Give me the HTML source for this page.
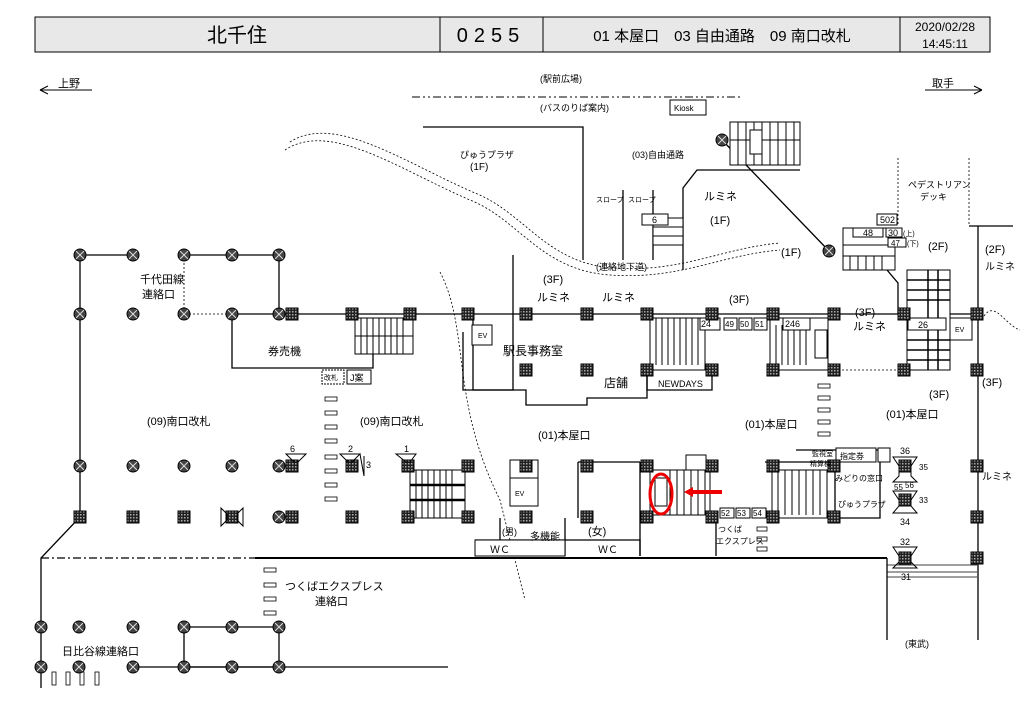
<!DOCTYPE html>
<html><head><meta charset="utf-8"><style>
html,body{margin:0;padding:0;background:#fff}
svg{display:block}
text{font-family:"Liberation Sans","Noto Sans CJK JP",sans-serif;fill:#000}
</style></head><body>
<svg width="1024" height="724" viewBox="0 0 1024 724" xmlns="http://www.w3.org/2000/svg">
<defs>
<pattern id="ck" width="3" height="3" patternUnits="userSpaceOnUse"><rect width="3" height="3" fill="#222"/><rect width="1.5" height="1.5" fill="#aaa"/></pattern>
<g id="sq"><rect x="-6" y="-6" width="12" height="12" fill="url(#ck)" stroke="#000" stroke-width="1"/></g>
<g id="ci"><circle r="6" fill="#444" stroke="#000"/><path d="M-4,-4L4,4M4,-4L-4,4" stroke="#ddd" stroke-width="1"/></g>
</defs>
<!-- header -->
<rect x="35" y="17" width="955" height="35" fill="#e8e8e8" stroke="#000"/>
<line x1="440" y1="17" x2="440" y2="52" stroke="#000"/>
<line x1="543" y1="17" x2="543" y2="52" stroke="#000"/>
<line x1="900" y1="17" x2="900" y2="52" stroke="#000"/>
<text x="237" y="42" font-size="20" text-anchor="middle">北千住</text>
<text x="491" y="42" font-size="20" text-anchor="middle" letter-spacing="6">0255</text>
<text x="722" y="41" font-size="15" text-anchor="middle">01 本屋口　03 自由通路　09 南口改札</text>
<text x="945" y="31" font-size="12" text-anchor="middle">2020/02/28</text>
<text x="945" y="48" font-size="12" text-anchor="middle">14:45:11</text>
<!-- directions -->
<g stroke="#000" fill="none" stroke-width="1">
<path d="M40,90H92M40,90l8,-4M40,90l8,4"/>
<path d="M925,90H982M982,90l-8,-4M982,90l-8,4"/>
<line x1="412" y1="97" x2="742" y2="97" stroke-dasharray="8,3,2,3,2,3"/>
<rect x="670" y="100" width="36" height="15" fill="#fff"/>
</g>
<text x="58" y="87" font-size="11">上野</text>
<text x="932" y="87" font-size="11">取手</text>
<text x="540" y="82" font-size="9">(駅前広場)</text>
<text x="540" y="111" font-size="9">(バスのりば案内)</text>
<!-- structure lines -->
<g stroke="#000" fill="none" stroke-width="1.3">
<path d="M80,255H133M184,255H279V314"/>
<path d="M80,255V517L41,558V688"/>
<path d="M232,314H977"/>
<path d="M232,314V368H373V352"/>
<path d="M423,127H583V260"/>
<path d="M513,255V314"/>
<path d="M683,270V188L697,170H800"/>
<path d="M722,140L829,251"/>
<path d="M887,270L898,283V314"/>
<path d="M969,226H1013M978,226V640"/>
<path d="M887,558V640"/>
<path d="M184,627H279V667H184Z"/>
<path d="M133,667H448"/>
<path d="M463,332V390H513V314"/>
<path d="M473,314V390H526V405H587V398H647V370"/>
<path d="M647,370V390H712V370"/>
<path d="M475,540H640V556"/>
<path d="M500,518V540M565,518V556M640,462V556M716,518V556"/>
<path d="M578,462H640"/>
<path d="M578,462V518"/>
<path d="M765,462H835V518"/>
<path d="M796,450H880V518H834"/>
<path d="M623,190V260M653,190V260"/>
</g>
<path d="M887,565H977M887,572H977M887,577H977" stroke="#000" stroke-width="0.8"/>
<line x1="41" y1="558" x2="255" y2="558" stroke="#000" stroke-width="1.2" stroke-dasharray="8,3,2,3"/>
<line x1="255" y1="558" x2="887" y2="558" stroke="#000" stroke-width="2"/>
<!-- dotted lines -->
<g stroke="#000" fill="none" stroke-dasharray="2,2" stroke-width="0.8">
<path d="M184,255V314H232"/>
<path d="M440,272C470,330 450,400 500,500 510,540 520,580 525,600"/>
<path d="M834,370H904"/>
<path d="M285,150C330,120 400,170 470,200 520,220 540,270 610,275 680,280 720,255 780,250 830,245"/>
<path d="M290,142C335,113 405,163 475,193 525,213 545,262 612,268 682,273 722,248 780,243 830,240"/>
<path d="M984,316C995,300 1005,325 1020,330"/>
<path d="M898,158V225M969,158V225"/>
</g>
<!-- escalators/stairs -->
<g stroke="#000" fill="#fff" stroke-width="1">
<rect x="355" y="318" width="58" height="36"/>
<path d="M361,318V354M367,318V354M373,318V354M379,318V354M385,318V354M391,318V354M397,318V354M403,318V354M355,336H413" />
<rect x="650" y="318" width="55" height="52"/>
<path d="M656,318V365M662,318V365M668,318V365M674,318V365M680,318V365M686,318V365M692,318V365M698,318V365"/>
<rect x="770" y="318" width="58" height="52"/>
<path d="M776,325V365M782,325V365M788,325V365M794,325V365M800,325V365M806,325V365"/>
<rect x="815" y="330" width="12" height="28"/>
<rect x="410" y="470" width="55" height="48"/>
<path d="M416,470V518M422,470V518M428,470V518M434,470V518M440,470V518M446,470V518M452,470V518"/>
<path d="M410,485H465M410,500H465" stroke-width="2.5"/>
<rect x="650" y="470" width="60" height="45"/>
<path d="M670,470V515M677,470V515M684,470V515M691,470V515M698,470V515M705,470V515"/>
<rect x="655" y="478" width="12" height="28"/>
<rect x="772" y="470" width="55" height="48"/>
<path d="M778,470V515M785,470V515M792,470V515M799,470V515M806,470V515M813,470V515M820,470V515"/>
<rect x="730" y="122" width="70" height="43"/>
<path d="M738,122V165M746,122V165M754,122V165M762,122V165M770,122V165M778,122V165M786,122V165M794,122V165M730,140H800" />
<rect x="750" y="130" width="12" height="24"/>
<rect x="843" y="228" width="52" height="42"/>
<path d="M843,245H895M843,256H895M850,256V270M858,256V270M866,256V270M874,256V270M882,256V270"/>
<rect x="907" y="270" width="43" height="100"/>
<path d="M907,280H950M907,290H950M907,300H950M907,340H950M907,350H950M907,360H950M928,270V370M938,270V370" stroke-width="1.5"/>
<rect x="653" y="218" width="30" height="27"/>
<path d="M653,227H683M653,236H683"/>
<rect x="642" y="214" width="26" height="11"/>
<rect x="510" y="478" width="28" height="28"/>
<rect x="510" y="460" width="28" height="18"/>
<rect x="475" y="540" width="90" height="16"/>
<rect x="686" y="455" width="20" height="15"/>
<rect x="836" y="448" width="40" height="14"/>
<rect x="878" y="448" width="12" height="14"/>
<rect x="472" y="325" width="20" height="20"/>
<rect x="950" y="318" width="22" height="22"/>
<rect x="877" y="214" width="20" height="11"/>
<rect x="853" y="228" width="30" height="9"/>
<rect x="886" y="228" width="16" height="9"/>
<rect x="888" y="238" width="18" height="9"/>
<rect x="700" y="318" width="20" height="12"/>
<rect x="724" y="318" width="13" height="12"/>
<rect x="739" y="318" width="13" height="12"/>
<rect x="754" y="318" width="13" height="12"/>
<rect x="783" y="318" width="27" height="12"/>
<rect x="908" y="318" width="38" height="12"/>
<rect x="720" y="508" width="14" height="10"/>
<rect x="736" y="508" width="14" height="10"/>
<rect x="752" y="508" width="14" height="10"/>
<rect x="322" y="370" width="22" height="14" stroke-dasharray="2,1"/>
<rect x="347" y="370" width="24" height="14"/>
</g>
<!-- small dash marks -->
<g fill="#fff" stroke="#000" stroke-width="0.8">
<rect x="325" y="397" width="12" height="4"/><rect x="325" y="411" width="12" height="4"/><rect x="325" y="425" width="12" height="4"/><rect x="325" y="439" width="12" height="4"/><rect x="325" y="455" width="12" height="4"/><rect x="325" y="469" width="12" height="4"/><rect x="325" y="483" width="12" height="4"/><rect x="325" y="497" width="12" height="4"/>
<rect x="818" y="384" width="12" height="4"/><rect x="818" y="396" width="12" height="4"/><rect x="818" y="408" width="12" height="4"/><rect x="818" y="420" width="12" height="4"/><rect x="818" y="432" width="12" height="4"/>
<rect x="264" y="568" width="12" height="4"/><rect x="264" y="583" width="12" height="4"/><rect x="264" y="597" width="12" height="4"/><rect x="264" y="611" width="12" height="4"/>
<rect x="757" y="527" width="10" height="4"/><rect x="757" y="537" width="10" height="4"/><rect x="757" y="547" width="10" height="4"/>
<rect x="52" y="672" width="4" height="13"/><rect x="66" y="672" width="4" height="13"/><rect x="80" y="672" width="4" height="13"/><rect x="95" y="672" width="4" height="13"/>
</g>
<!-- pillars -->
<g>
<use href="#ci" x="80" y="255"/><use href="#ci" x="133" y="255"/><use href="#ci" x="184" y="255"/><use href="#ci" x="232" y="255"/><use href="#ci" x="279" y="255"/>
<use href="#ci" x="80" y="314"/><use href="#ci" x="133" y="314"/><use href="#ci" x="184" y="314"/><use href="#ci" x="232" y="314"/><use href="#ci" x="279" y="314"/>
<use href="#ci" x="80" y="466"/><use href="#ci" x="133" y="466"/><use href="#ci" x="184" y="466"/><use href="#ci" x="232" y="466"/><use href="#ci" x="279" y="466"/><use href="#ci" x="279" y="517"/>
<use href="#ci" x="41" y="627"/><use href="#ci" x="79" y="627"/><use href="#ci" x="133" y="627"/><use href="#ci" x="184" y="627"/><use href="#ci" x="232" y="627"/><use href="#ci" x="279" y="627"/>
<use href="#ci" x="41" y="667"/><use href="#ci" x="79" y="667"/><use href="#ci" x="133" y="667"/><use href="#ci" x="184" y="667"/><use href="#ci" x="232" y="667"/><use href="#ci" x="279" y="667"/>
<use href="#ci" x="722" y="140"/><use href="#ci" x="829" y="251"/>
<use href="#sq" x="80" y="517"/><use href="#sq" x="133" y="517"/><use href="#sq" x="184" y="517"/><use href="#sq" x="232" y="517"/><use href="#sq" x="292" y="517"/><use href="#sq" x="292" y="466"/><use href="#sq" x="292" y="314"/>
<use href="#sq" x="352" y="314"/><use href="#sq" x="410" y="314"/><use href="#sq" x="468" y="314"/><use href="#sq" x="526" y="314"/><use href="#sq" x="587" y="314"/><use href="#sq" x="647" y="314"/><use href="#sq" x="712" y="314"/><use href="#sq" x="773" y="314"/><use href="#sq" x="834" y="314"/><use href="#sq" x="904" y="314"/><use href="#sq" x="977" y="314"/>
<use href="#sq" x="526" y="370"/><use href="#sq" x="587" y="370"/><use href="#sq" x="647" y="370"/><use href="#sq" x="712" y="370"/><use href="#sq" x="773" y="370"/><use href="#sq" x="834" y="370"/><use href="#sq" x="904" y="370"/><use href="#sq" x="977" y="370"/>
<use href="#sq" x="352" y="466"/><use href="#sq" x="408" y="466"/><use href="#sq" x="468" y="466"/><use href="#sq" x="526" y="466"/><use href="#sq" x="587" y="466"/><use href="#sq" x="647" y="466"/><use href="#sq" x="712" y="466"/><use href="#sq" x="773" y="466"/><use href="#sq" x="834" y="466"/><use href="#sq" x="977" y="466"/>
<use href="#sq" x="352" y="517"/><use href="#sq" x="408" y="517"/><use href="#sq" x="468" y="517"/><use href="#sq" x="526" y="517"/><use href="#sq" x="587" y="517"/><use href="#sq" x="647" y="517"/><use href="#sq" x="712" y="517"/><use href="#sq" x="773" y="517"/><use href="#sq" x="834" y="517"/><use href="#sq" x="977" y="517"/>
<use href="#sq" x="905" y="466"/><use href="#sq" x="905" y="500"/><use href="#sq" x="905" y="558"/><use href="#sq" x="977" y="558"/>
</g>
<!-- tripods -->
<g fill="none" stroke="#000">
<path d="M286,454H306L298,462H294Z"/><path d="M340,454H360L352,462H348Z"/><path d="M396,454H416L410,462H406Z"/>
<path d="M360,454L364,476V456"/>
<path d="M893,457H917L911,466V476L917,482H893L899,476V466Z"/>
<path d="M893,491H917L911,500V506L917,513H893L899,506V500Z"/>
<path d="M893,547H917L911,556V562L917,568H893L899,562V556Z"/>
<path d="M221,508V526L227,520V514Z M243,508V526L237,520V514Z"/>
</g>
<!-- red markers -->
<ellipse cx="661" cy="494" rx="11" ry="20" fill="none" stroke="#e00" stroke-width="3"/>
<path d="M722,492H690" stroke="#e00" stroke-width="4"/>
<path d="M684,492l9,-5v10z" fill="#e00"/>
<!-- labels -->
<g font-size="11">
<text x="140" y="283">千代田線</text><text x="142" y="298">連絡口</text>
<text x="268" y="355">券売機</text>
<text x="147" y="425">(09)南口改札</text>
<text x="360" y="425">(09)南口改札</text>
<text x="503" y="355" font-size="12">駅長事務室</text>
<text x="604" y="387" font-size="12">店舗</text>
<text x="658" y="387" font-size="9">NEWDAYS</text>
<text x="538" y="439">(01)本屋口</text>
<text x="745" y="428">(01)本屋口</text>
<text x="886" y="418">(01)本屋口</text>
<text x="537" y="301">ルミネ</text><text x="602" y="301">ルミネ</text>
<text x="729" y="303">(3F)</text><text x="543" y="283">(3F)</text>
<text x="855" y="316">(3F)</text><text x="853" y="330">ルミネ</text>
<text x="929" y="398">(3F)</text><text x="982" y="386">(3F)</text>
<text x="781" y="256">(1F)</text>
<text x="704" y="200">ルミネ</text><text x="710" y="224">(1F)</text>
<text x="460" y="158" font-size="9">ぴゅうプラザ</text><text x="470" y="170" font-size="10">(1F)</text>
<text x="632" y="158" font-size="9">(03)自由通路</text>
<text x="596" y="270" font-size="9">(連絡地下道)</text>
<text x="908" y="188" font-size="9">ペデストリアン</text><text x="920" y="200" font-size="9">デッキ</text>
<text x="928" y="250">(2F)</text><text x="985" y="253">(2F)</text>
<text x="985" y="270" font-size="10">ルミネ</text>
<text x="982" y="480" font-size="10">ルミネ</text>
<text x="502" y="535" font-size="9">(男)</text><text x="530" y="540" font-size="10">多機能</text>
<text x="588" y="535">(女)</text>
<text x="490" y="553" font-size="10">ＷＣ</text><text x="598" y="553" font-size="10">ＷＣ</text>
<text x="718" y="532" font-size="8">つくば</text><text x="716" y="544" font-size="8">エクスプレス</text>
<text x="285" y="590">つくばエクスプレス</text><text x="315" y="605">連絡口</text>
<text x="62" y="655">日比谷線連絡口</text>
<text x="905" y="647" font-size="9">(東武)</text>
<text x="596" y="202" font-size="7">スロープ</text><text x="628" y="202" font-size="7">スロープ</text>
<text x="835" y="481" font-size="8">みどりの窓口</text><text x="838" y="507" font-size="8">ぴゅうプラザ</text>
<text x="840" y="459" font-size="8">指定券</text>
<text x="812" y="456" font-size="7">監視室</text><text x="810" y="466" font-size="7">精算機</text>
</g>
<g font-size="9">
<text x="290" y="452">6</text><text x="348" y="452">2</text><text x="404" y="452">1</text><text x="366" y="468">3</text>
<text x="701" y="327">24</text><text x="725" y="327" font-size="8">49</text><text x="740" y="327" font-size="8">50</text><text x="755" y="327" font-size="8">51</text>
<text x="785" y="327">246</text><text x="918" y="328">26</text>
<text x="478" y="338" font-size="7">EV</text><text x="955" y="332" font-size="7">EV</text><text x="515" y="496" font-size="7">EV</text>
<text x="674" y="111" font-size="8">Kiosk</text>
<text x="652" y="223">6</text>
<text x="880" y="223">502</text><text x="863" y="236">48</text><text x="888" y="236">30</text><text x="891" y="246" font-size="8">47</text>
<text x="903" y="236" font-size="7">(上)</text><text x="907" y="246" font-size="7">(下)</text>
<text x="721" y="516" font-size="8">52</text><text x="737" y="516" font-size="8">53</text><text x="753" y="516" font-size="8">54</text>
<text x="900" y="454">36</text><text x="900" y="525">34</text><text x="900" y="545">32</text><text x="901" y="580">31</text>
<text x="919" y="470" font-size="8">35</text><text x="919" y="503" font-size="8">33</text><text x="894" y="490" font-size="8">55</text><text x="905" y="488" font-size="8">56</text>
<text x="324" y="380" font-size="7">改札</text><text x="350" y="381">J案</text>
</g>
</svg>
</body></html>
